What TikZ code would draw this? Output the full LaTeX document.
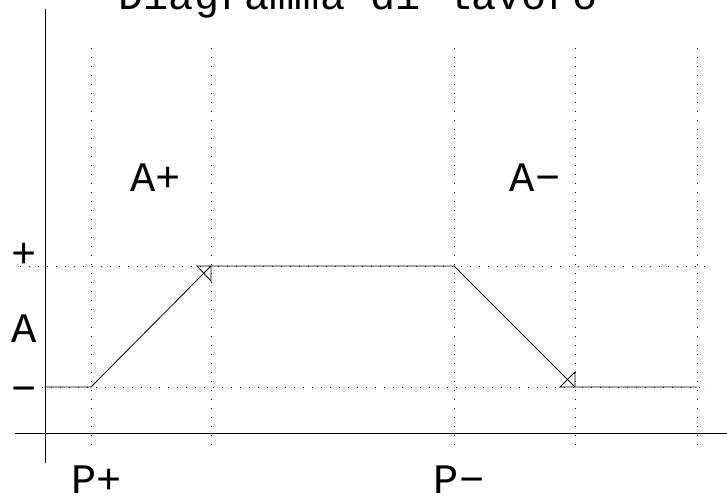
\documentclass[tikz,border=0pt]{standalone}
\usepackage{fontspec}
\newfontfamily\plotfont{Liberation Mono}
\tikzset{
  axis/.style={draw,line width=0.9pt},
  guide/.style={draw,line width=0.9pt,dash pattern=on 1.2pt off 7.8pt},
  motion/.style={draw,line width=0.8pt},
  lbl/.style={font=\plotfont\fontsize{42}{42}\selectfont,inner sep=0pt,anchor=base},
  heading/.style={lbl}
}
\begin{document}
\begin{tikzpicture}[x=1pt,y=-1pt]
\useasboundingbox (0,0) rectangle (727,495);
\clip (0,0) rectangle (727,495);
% axes
\draw[axis] (45,9) -- (45,463);
\draw[axis] (15,433) -- (727,433);
% guide lines
\foreach \x in {91,211,454,575,697}
  \draw[guide] (\x,48) -- (\x,452);
\draw[guide] (20,266) -- (712,266);
\draw[guide] (15,387) -- (708,387);
% cylinder motion
\coordinate (s0) at (45,387);
\coordinate (s1) at (91,387);
\coordinate (s2) at (211,266);
\coordinate (s3) at (454,266);
\coordinate (s4) at (575,387);
\coordinate (s5) at (697,387);
\draw[motion] (s0) -- (s1) -- (s2) -- (s3) -- (s4) -- (s5);
\draw[motion] (s2) -- ++(-14,0) -- ++(14,15) -- cycle;
\draw[motion] (s4) -- ++(-15,0) -- ++(15,-15) -- cycle;
% labels
\node[heading] (title) at (358,10) {Diagramma di lavoro};
\node[lbl] (aplus) at (156,191) {A+};
\node[lbl] (aminus) at (535,191) {A−};
\node[lbl] (pplus) at (97,493) {P+};
\node[lbl] (pminus) at (459,493) {P−};
\node[lbl] (hi) at (24,267) {+};
\node[lbl] (name) at (24,342) {A};
\node[lbl] (lo) at (24,402) {−};
\end{tikzpicture}
\end{document}
